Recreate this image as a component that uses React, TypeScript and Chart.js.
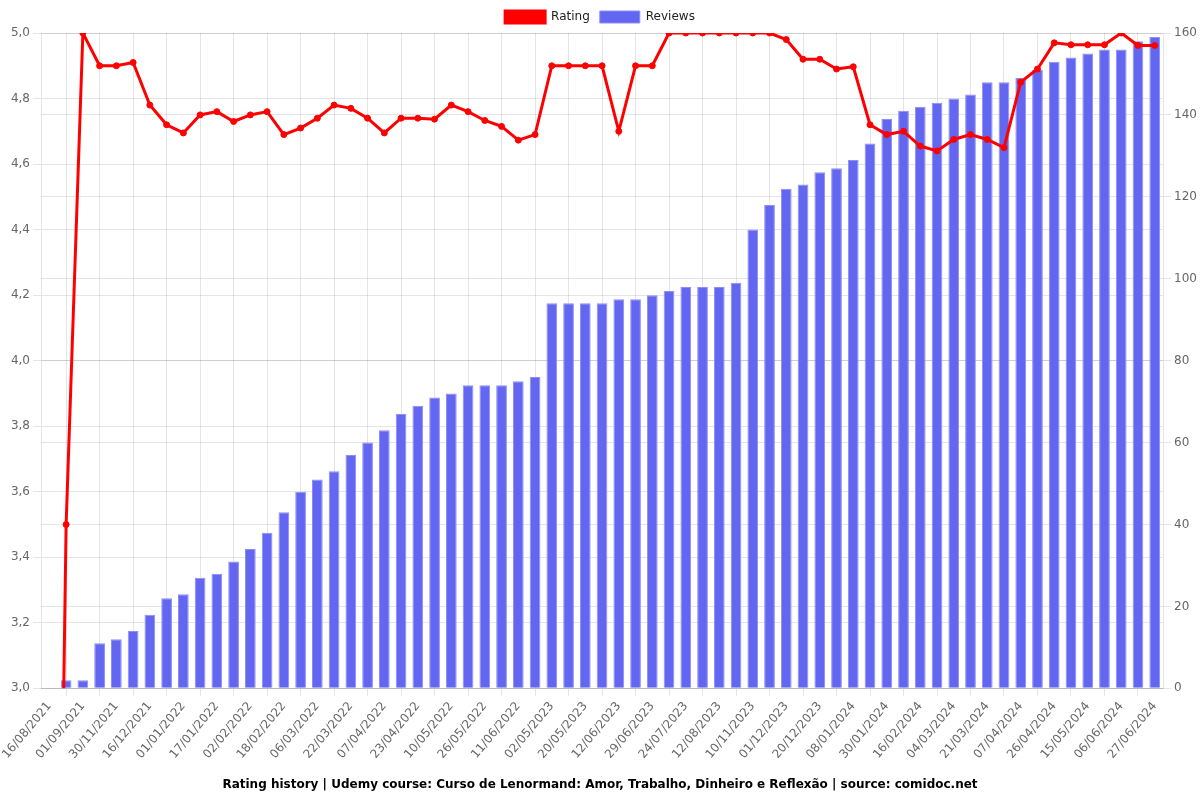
import React, { useEffect, useRef } from "react";
import { Chart, registerables } from "chart.js";

Chart.register(...registerables);

const dates: string[] = [
  "16/08/2021", "24/08/2021", "01/09/2021", "16/10/2021", "30/11/2021", "08/12/2021",
  "16/12/2021", "24/12/2021", "01/01/2022", "09/01/2022", "17/01/2022", "25/01/2022",
  "02/02/2022", "10/02/2022", "18/02/2022", "26/02/2022", "06/03/2022", "14/03/2022",
  "22/03/2022", "30/03/2022", "07/04/2022", "15/04/2022", "23/04/2022", "01/05/2022",
  "10/05/2022", "18/05/2022", "26/05/2022", "03/06/2022", "11/06/2022", "10/04/2023",
  "02/05/2023", "11/05/2023", "20/05/2023", "01/06/2023", "12/06/2023", "20/06/2023",
  "29/06/2023", "11/07/2023", "24/07/2023", "03/08/2023", "12/08/2023", "15/09/2023",
  "10/11/2023", "20/11/2023", "01/12/2023", "10/12/2023", "20/12/2023", "29/12/2023",
  "08/01/2024", "19/01/2024", "30/01/2024", "07/02/2024", "16/02/2024", "24/02/2024",
  "04/03/2024", "12/03/2024", "21/03/2024", "29/03/2024", "07/04/2024", "16/04/2024",
  "26/04/2024", "05/05/2024", "15/05/2024", "26/05/2024", "06/06/2024", "16/06/2024",
  "27/06/2024",
];

const ratings: number[] = [
  0, 3.5, 5.0, 4.9, 4.9, 4.91, 4.78, 4.72, 4.695, 4.75, 4.76, 4.73,
  4.75, 4.76, 4.69, 4.71, 4.74, 4.78, 4.77, 4.74, 4.695, 4.74, 4.74, 4.737,
  4.78, 4.76, 4.733, 4.715, 4.673, 4.69, 4.9, 4.9, 4.9, 4.9, 4.7, 4.9,
  4.9, 5.0, 5.0, 5.0, 5.0, 5.0, 5.0, 5.0, 4.98, 4.92, 4.92, 4.89,
  4.897, 4.72, 4.69, 4.70, 4.655, 4.64, 4.675, 4.69, 4.675, 4.65, 4.85, 4.89,
  4.97, 4.964, 4.964, 4.964, 5.0, 4.962, 4.962,
];

const reviews: number[] = [
  0, 2, 2, 11, 12, 14, 18, 22, 23, 27, 28, 31,
  34, 38, 43, 48, 51, 53, 57, 60, 63, 67, 69, 71,
  72, 74, 74, 74, 75, 76, 94, 94, 94, 94, 95, 95,
  96, 97, 98, 98, 98, 99, 112, 118, 122, 123, 126, 127,
  129, 133, 139, 141, 142, 143, 144, 145, 148, 148, 149, 151,
  153, 154, 155, 156, 156, 158, 159,
];

const TITLE =
  "Rating history | Udemy course: Curso de Lenormand: Amor, Trabalho, Dinheiro e Reflexão | source: comidoc.net";

export default function App() {
  const ref = useRef<HTMLCanvasElement | null>(null);

  useEffect(() => {
    document.body.style.margin = "0";
    if (!ref.current) return;
    Chart.defaults.font.family = "'DejaVu Sans', sans-serif";
    Chart.defaults.font.size = 12;
    Chart.defaults.color = "#666";
    const chart = new Chart(ref.current, {
      type: "bar",
      data: {
        labels: dates,
        datasets: [
          {
            type: "line",
            label: "Rating",
            data: ratings,
            yAxisID: "y",
            borderColor: "rgb(255,0,0)",
            backgroundColor: "rgb(255,0,0)",
            borderWidth: 3,
            pointRadius: 3,
            pointBorderWidth: 1,
            tension: 0,
          } as any,
          {
            type: "bar",
            label: "Reviews",
            data: reviews,
            yAxisID: "y1",
            backgroundColor: "rgb(99,102,241)",
            borderColor: "rgba(140,142,245,1)",
            borderWidth: 1,
            categoryPercentage: 0.8,
            barPercentage: 0.8,
          },
        ],
      },
      options: {
        animation: false,
        responsive: true,
        maintainAspectRatio: false,
        locale: "pt-BR",
        layout: { padding: { top: 1 } },
        plugins: {
          legend: {
            position: "top",
            labels: { color: "#222", font: { size: 12 } },
          },
          title: {
            display: true,
            text: TITLE,
            position: "bottom",
            color: "#000",
            font: { size: 12, weight: "bold" },
            padding: { top: 13, bottom: 8 },
          },
          tooltip: { enabled: false },
        },
        scales: {
          x: {
            grid: { color: "rgba(0,0,0,0.1)" },
          },
          y: {
            position: "left",
            min: 3,
            max: 5,
            ticks: { stepSize: 0.2 },
            grid: { color: "rgba(0,0,0,0.1)" },
            afterFit: (s: any) => {
              s.width = 41;
            },
          },
          y1: {
            position: "right",
            min: 0,
            max: 160,
            ticks: { stepSize: 20 },
            grid: { color: "rgba(0,0,0,0.1)" },
          },
        },
      },
    });
    return () => chart.destroy();
  }, []);

  return (
    <div style={{ position: "fixed", left: 0, top: 0, width: 1200, height: 800 }}>
      <canvas ref={ref} />
    </div>
  );
}
